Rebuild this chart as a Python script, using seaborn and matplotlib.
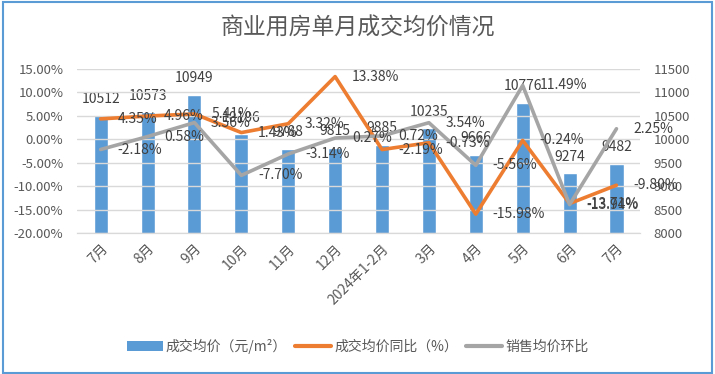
import numpy as np
import pandas as pd
import matplotlib
matplotlib.use("Agg")
import matplotlib.pyplot as plt
from matplotlib.patches import Patch, FancyBboxPatch
from matplotlib.lines import Line2D
import seaborn as sns

# 数据
months = ["7月", "8月", "9月", "10月", "11月", "12月", "2024年1-2月",
          "3月", "4月", "5月", "6月", "7月"]
price = [10512, 10573, 10949, 10106, 9788, 9815, 9885, 10235, 9666, 10776, 9274, 9482]
yoy = [4.35, 4.96, 5.41, 1.43, 3.32, 13.38, -2.19, -0.73, -15.98, -0.24, -13.71, -9.80]
mom = [-2.18, 0.58, 3.56, -7.70, -3.14, 0.27, 0.72, 3.54, -5.56, 11.49, -13.94, 2.25]

blue = "#5B9BD5"
orange = "#ED7D31"
grey = "#A5A5A5"
txt = "#595959"
lab = "#404040"

sns.set_style("white")
plt.rcParams['font.family'] = ['Noto Sans CJK SC', 'DejaVu Sans']

df = pd.DataFrame({"idx": np.arange(len(months)), "price": price,
                   "yoy": yoy, "mom": mom})

fig = plt.figure(figsize=(7.15, 3.74), dpi=100)
ax = fig.add_axes([0.108, 0.377, 0.787, 0.4385])
ax2 = ax.twinx()

# 柱子在右轴
sns.barplot(data=df, x="idx", y="price", color=blue, width=0.3,
            saturation=1, ax=ax2)
ax2.set_ylim(8000, 11500)
ax2.set_yticks(np.arange(8000, 11501, 500))
ax2.bar_label(ax2.containers[0], labels=[str(v) for v in price],
              padding=7, fontsize=10, color=lab)

# 折线在左轴
sns.lineplot(data=df, x="idx", y="yoy", color=orange, linewidth=2.6, ax=ax)
sns.lineplot(data=df, x="idx", y="mom", color=grey, linewidth=2.6, ax=ax)
ax.set_ylim(-20, 15)
ax.set_yticks(np.arange(-20, 15.1, 5))
ax.set_yticklabels([f"{v:.2f}%" for v in np.arange(-20, 15.1, 5)])
ax.set_xlim(-0.5, len(months) - 0.5)

for i, v in enumerate(yoy):
    ax.annotate(f"{v:.2f}%", (i, v), xytext=(12, 0), textcoords="offset points",
                va="center", ha="left", fontsize=10, color=lab)
for i, v in enumerate(mom):
    ax.annotate(f"{v:.2f}%", (i, v), xytext=(12, 0), textcoords="offset points",
                va="center", ha="left", fontsize=10, color=lab)

ax.set_zorder(ax2.get_zorder() + 1)
ax.patch.set_visible(False)

# 网格和坐标轴
ax2.grid(False)
ax.grid(axis="y", color="#D9D9D9", linewidth=1)
ax.set_axisbelow(True)
for a in (ax, ax2):
    for s in ["top", "left", "right"]:
        a.spines[s].set_visible(False)
    a.spines["bottom"].set_color("#D9D9D9")
    a.set_xlabel("")
    a.set_ylabel("")
ax.tick_params(axis="y", length=0, labelsize=9.5, labelcolor=txt, pad=10)
ax2.tick_params(axis="y", length=0, labelsize=9.5, labelcolor=txt, pad=10)
ax.set_xticks(range(len(months)))
ax.set_xticklabels(months, rotation=45, ha="right", rotation_mode="anchor")
ax.tick_params(axis="x", length=0, labelsize=10, labelcolor=txt, pad=6)
ax2.tick_params(axis="x", length=0, labelbottom=False)

fig.suptitle("商业用房单月成交均价情况", y=0.955, fontsize=16.5, color=txt)

handles = [Patch(facecolor=blue, edgecolor="none"),
           Line2D([], [], color=orange, linewidth=3),
           Line2D([], [], color=grey, linewidth=3)]
fig.legend(handles, ["成交均价（元/m²）", "成交均价同比（%）", "销售均价环比"],
           loc="center", bbox_to_anchor=(0.5, 0.075), ncol=3, frameon=False,
           fontsize=10, labelcolor=txt, handlelength=2.6, handletextpad=0.2,
           columnspacing=0.6)

# 外框
fig.patches.append(FancyBboxPatch((0.004, 0.004), 0.992, 0.99,
                                  boxstyle="square,pad=0", transform=fig.transFigure,
                                  fill=False, edgecolor=blue, linewidth=1.5))

fig.savefig("out.png", dpi=100)
